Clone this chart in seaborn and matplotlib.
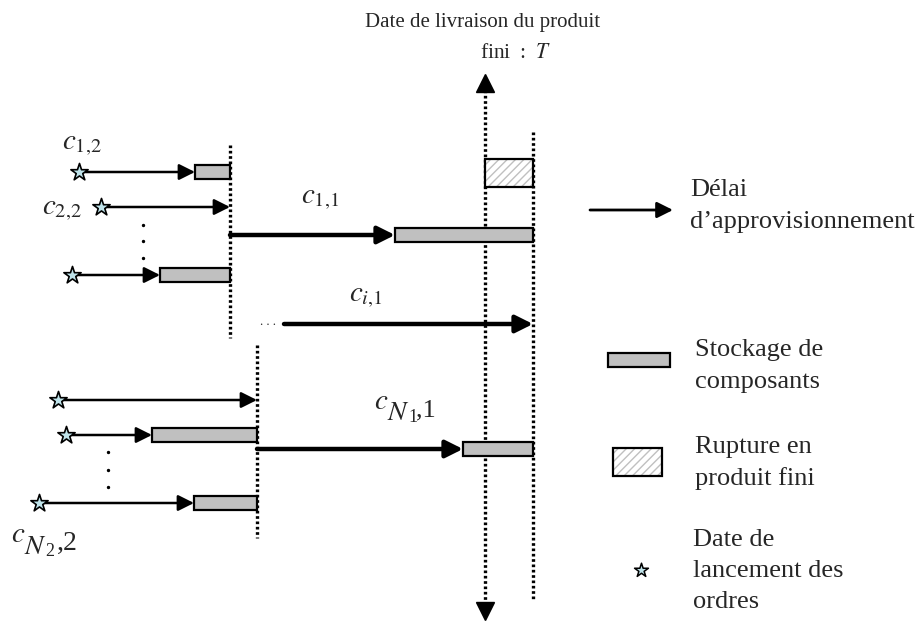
import matplotlib
matplotlib.use('Agg')
import matplotlib.pyplot as plt
import seaborn as sns
import pandas as pd
from matplotlib.patches import Rectangle

# Diagram drawn in pixel units (x right, y down)
# level-2 components, first group (c_{1,2} ... c_{2,2})
g1_y = [172, 207, 275]
g1_start = [79, 101, 72]
g1_arrive = [195, 230, 160]
g1_due = 230

# level-2 components, second group (... c_{N2,2})
g2_y = [400, 435, 503]
g2_start = [58, 66, 39]
g2_arrive = [257, 152, 194]
g2_due = 257

# level-1 components c_{1,1}, c_{i,1}, c_{N1,1}
l1_y = [235, 324, 449]
l1_start = [230, 284, 257]
l1_arrive = [395, 533, 463]
l1_due = 533

T_x = 485
labels = [r'$c_{1{,}2}$', r'$c_{2{,}2}$', r'$c_{1{,}1}$', r'$c_{i{,}1}$']
label_pos = [(62, 145), (42, 210), (301, 199), (349, 297)]
# c_{N1,1} and c_{N2,2}: pieces (text, x, y, size)
n1_parts = [('$c$', 374, 402, 21), ('$N$', 387, 413, 20), ('1', 408, 418, 13), (',1', 416, 410, 19)]
n2_parts = [('$c$', 11, 535, 21), ('$N$', 24, 547, 20), ('2', 45, 552, 13), (',2', 57, 543, 20)]

sns.set_theme(style='white')
plt.rcParams['font.family'] = ['Liberation Serif', 'DejaVu Serif']
plt.rcParams['mathtext.fontset'] = 'stix'

fig = plt.figure(figsize=(9.23, 6.25), dpi=100)
ax = fig.add_axes([0, 0, 1, 1])

dot = dict(color='black', lw=2.4, linestyle=(0, (0.8, 0.8)))

# vertical dotted lines (due dates)
ax.plot([g1_due, g1_due], [145, 338], **dot)
ax.plot([g2_due, g2_due], [345, 538], **dot)
ax.plot([l1_due, l1_due], [132, 600], **dot)
ax.plot([T_x, T_x], [90, 605], **dot)
ax.plot([T_x], [83], marker='^', ms=13, color='black')
ax.plot([T_x], [611], marker='v', ms=13, color='black')


def arrow(x0, x1, y, lw, ms):
    ax.annotate('', xy=(x1, y), xytext=(x0, y),
                arrowprops=dict(arrowstyle='-|>', lw=lw, color='black',
                                mutation_scale=ms, shrinkA=0, shrinkB=0))


def stock(x0, x1, y, h=14):
    ax.barh([y], [x1 - x0], left=[x0], height=h, color='#c0c0c0',
            edgecolor='black', linewidth=1.6, zorder=3)


for ys, xs, xa, due in [(g1_y, g1_start, g1_arrive, g1_due),
                        (g2_y, g2_start, g2_arrive, g2_due)]:
    for y, s, a in zip(ys, xs, xa):
        arrow(s, a, y, 1.8, 24)
        if a < due:
            stock(a, due, y)

for y, s, a in zip(l1_y, l1_start, l1_arrive):
    arrow(s, a, y, 3.2, 26)
    if a < l1_due:
        stock(a, l1_due, y)

# "..." before c_{i,1}
ax.text(268, 322, '. . .', fontsize=9, ha='center', va='center')
# vertical ellipsis
for x, ys in [(143, [225, 241, 258]), (108, [452, 470, 487])]:
    ax.scatter([x] * 3, ys, s=2, color='black', zorder=3)

# stockout (hatched) box
ax.add_patch(Rectangle((485, 159), 48, 28, facecolor='white', hatch='////',
                       edgecolor='#c0c0c0', lw=0, zorder=3))
ax.add_patch(Rectangle((485, 159), 48, 28, fill=False, edgecolor='black', lw=1.6, zorder=4))

# launch date stars
stars = pd.DataFrame({'x': g1_start + g2_start, 'y': g1_y + g2_y})
sns.scatterplot(data=stars, x='x', y='y', marker='*', s=170, color='#bfe3ea',
                edgecolor='black', linewidth=1.2, zorder=5, ax=ax)

# component labels
for lab, (x, y) in zip(labels, label_pos):
    ax.text(x, y, lab, fontsize=21, ha='left', va='center')
for txt, x, y, size in n1_parts + n2_parts:
    ax.text(x, y, txt, fontsize=size, ha='left', va='center')

ax.text(483, 23, 'Date de livraison du produit', fontsize=15, ha='center', va='center')
ax.text(480, 54, 'fini\u2009 : \u2009$\\mathit{T}$', fontsize=15.5, ha='left', va='center')

# legend
fs = 19
ls = 1.55
arrow(590, 673, 210, 2.0, 24)
ax.text(690, 206, 'Délai\nd\u2019approvisionnement', fontsize=fs, ha='left',
        va='center', linespacing=ls)
stock(608, 670, 360, h=14)
ax.text(695, 366, 'Stockage de\ncomposants', fontsize=fs, ha='left',
        va='center', linespacing=ls)
ax.add_patch(Rectangle((613, 448), 49, 28, facecolor='white', hatch='////',
                       edgecolor='#c0c0c0', lw=0, zorder=3))
ax.add_patch(Rectangle((613, 448), 49, 28, fill=False, edgecolor='black', lw=1.6, zorder=4))
ax.text(695, 463, 'Rupture en\nproduit fini', fontsize=fs, ha='left',
        va='center', linespacing=ls)
ax.scatter([641], [570], marker='*', s=110, color='#bfe3ea', edgecolor='black',
           linewidth=1.1, zorder=5)
ax.text(693, 571, 'Date de\nlancement des\nordres', fontsize=fs, ha='left',
        va='center', linespacing=ls)

ax.set_xlim(0, 923)
ax.set_ylim(625, 0)
ax.axis('off')

fig.savefig('out.png', dpi=100)
